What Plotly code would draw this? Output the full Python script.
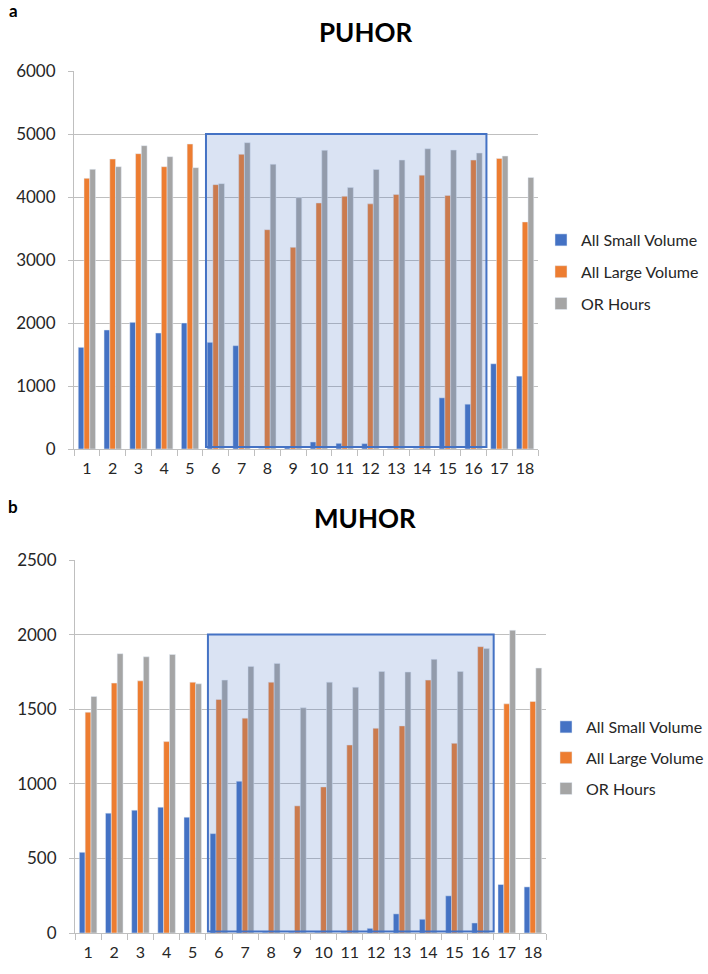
import plotly.graph_objects as go

categories = [str(i) for i in range(1, 19)]
series_names = ["All Small Volume", "All Large Volume", "OR Hours"]
colors = ["#4472C4", "#ED7D31", "#A5A5A5"]

puhor_small = [1614, 1889, 2011, 1841, 2000, 1693, 1640, 10, 30, 111, 90, 85, 10, 10, 812, 711, 1353, 1157]
puhor_large = [4296, 4603, 4688, 4481, 4841, 4196, 4677, 3481, 3201, 3905, 4011, 3891, 4039, 4347, 4023, 4586, 4613, 3604]
puhor_hours = [4439, 4481, 4815, 4640, 4466, 4212, 4862, 4519, 3989, 4741, 4150, 4437, 4586, 4766, 4745, 4697, 4650, 4310]

muhor_small = [541, 803, 823, 843, 776, 666, 1017, 5, 5, 5, 5, 31, 128, 92, 249, 67, 325, 309]
muhor_large = [1480, 1675, 1690, 1283, 1681, 1565, 1440, 1681, 852, 979, 1260, 1372, 1388, 1695, 1271, 1919, 1536, 1552]
muhor_hours = [1585, 1872, 1851, 1867, 1670, 1695, 1787, 1807, 1509, 1681, 1647, 1753, 1749, 1834, 1753, 1906, 2029, 1776]

W, H = 708, 974
FONT = "Lato"
GRID = "#BFBFBF"

fig = go.Figure()

for name, col, vals in zip(series_names, colors, [puhor_small, puhor_large, puhor_hours]):
    fig.add_trace(go.Bar(x=categories, y=vals, name=name, marker_color=col,
                         xaxis="x", yaxis="y", legend="legend", legendgroup="a" + name))
for name, col, vals in zip(series_names, colors, [muhor_small, muhor_large, muhor_hours]):
    fig.add_trace(go.Bar(x=categories, y=vals, name=name, marker_color=col,
                         xaxis="x2", yaxis="y2", legend="legend2", legendgroup="b" + name))

def px_x(p):
    return p / W

def px_y(p):
    return 1 - p / H

xcommon = dict(type="category", showgrid=False, showline=True, linecolor=GRID, linewidth=1,
               ticks="outside", tickson="boundaries", ticklen=6, tickcolor=GRID, tickangle=0,
               automargin=False, ticklabelstandoff=5,
               tickfont=dict(family=FONT, size=16, color="#262626"))
ycommon = dict(showgrid=True, gridcolor=GRID, gridwidth=1, showline=True, linecolor=GRID,
               zeroline=False, ticks="outside", ticklen=5, tickcolor=GRID, automargin=False,
               ticklabelstandoff=9,
               tickfont=dict(family=FONT, size=17, color="#262626"))

fig.update_layout(
    width=W, height=H,
    margin=dict(l=0, r=0, t=0, b=0, autoexpand=False),
    paper_bgcolor="white", plot_bgcolor="white",
    barmode="group", bargap=0.33, bargroupgap=0,
    font=dict(family=FONT, color="#262626"),
    xaxis=dict(domain=[px_x(74), px_x(538)], anchor="y", **xcommon),
    yaxis=dict(domain=[px_y(449), px_y(71)], anchor="x", range=[0, 6000], dtick=1000, **ycommon),
    xaxis2=dict(domain=[px_x(75), px_x(546)], anchor="y2", **xcommon),
    yaxis2=dict(domain=[px_y(933), px_y(560)], anchor="x2", range=[0, 2500], dtick=500, **ycommon),
    legend=dict(x=px_x(541), y=px_y(223), xanchor="left", yanchor="top",
                font=dict(family=FONT, size=16, color="#262626"), tracegroupgap=8,
                bgcolor="rgba(0,0,0,0)"),
    legend2=dict(x=px_x(546), y=px_y(710), xanchor="left", yanchor="top",
                 font=dict(family=FONT, size=16, color="#262626"), tracegroupgap=7,
                 bgcolor="rgba(0,0,0,0)"),
)

fig.add_shape(type="rect", xref="x", yref="y", x0=4.62, x1=15.5, y0=30, y1=5000,
              line=dict(color="#4472C4", width=2), fillcolor="rgba(68,114,196,0.2)", layer="above")
fig.add_shape(type="rect", xref="x2", yref="y2", x0=4.58, x1=15.5, y0=10, y1=2000,
              line=dict(color="#4472C4", width=2), fillcolor="rgba(68,114,196,0.2)", layer="above")

ann = dict(xref="paper", yref="paper", showarrow=False, xanchor="center", yanchor="middle")
fig.add_annotation(text="<b>PUHOR</b>", x=px_x(365), y=px_y(32),
                   font=dict(family=FONT, size=26, color="black"), **ann)
fig.add_annotation(text="<b>MUHOR</b>", x=px_x(365), y=px_y(518),
                   font=dict(family=FONT, size=26, color="black"), **ann)
fig.add_annotation(text="<b>a</b>", x=px_x(13), y=px_y(11),
                   font=dict(family=FONT, size=17, color="black"), **ann)
fig.add_annotation(text="<b>b</b>", x=px_x(13), y=px_y(506),
                   font=dict(family=FONT, size=17, color="black"), **ann)

fig.write_html("out.html")
